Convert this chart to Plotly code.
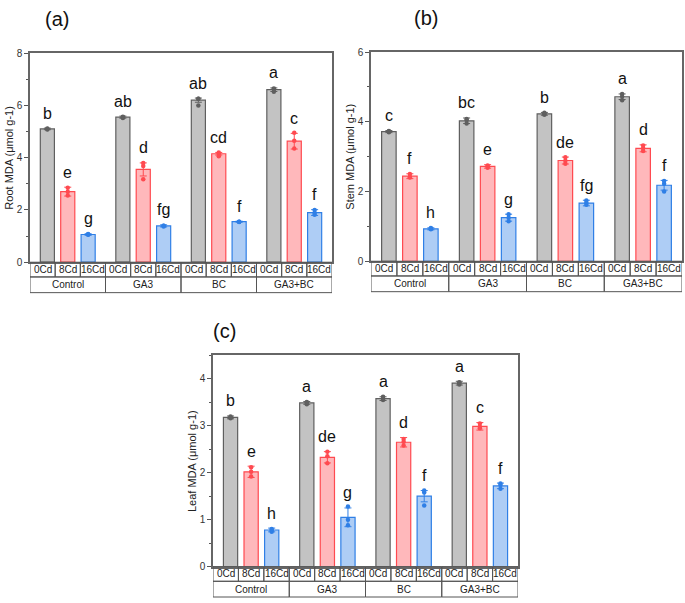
import plotly.graph_objects as go

W, H = 685, 603

treatments = ["Control", "GA3", "BC", "GA3+BC"]
cd_levels = ["0Cd", "8Cd", "16Cd"]

root_mean = [5.10, 2.70, 1.06, 5.55, 3.55, 1.39, 6.20, 4.15, 1.55, 6.60, 4.63, 1.90]
root_err = [0.03, 0.17, 0.03, 0.04, 0.25, 0.04, 0.08, 0.05, 0.02, 0.07, 0.30, 0.11]
root_reps = [[5.08, 5.10, 5.12], [2.85, 2.70, 2.55], [1.05, 1.06, 1.08],
             [5.52, 5.55, 5.57], [3.80, 3.68, 3.17], [1.37, 1.40, 1.40],
             [6.25, 6.25, 6.00], [4.20, 4.15, 4.05], [1.55, 1.55, 1.54],
             [6.65, 6.62, 6.52], [4.95, 4.65, 4.35], [2.00, 1.88, 1.82]]
root_letters = ["b", "e", "g", "ab", "d", "fg", "ab", "cd", "f", "a", "c", "f"]

stem_mean = [3.72, 2.44, 0.93, 4.03, 2.72, 1.25, 4.23, 2.89, 1.67, 4.72, 3.24, 2.18]
stem_err = [0.03, 0.07, 0.03, 0.08, 0.05, 0.10, 0.04, 0.10, 0.08, 0.08, 0.10, 0.14]
stem_reps = [[3.70, 3.72, 3.74], [2.40, 2.42, 2.50], [0.92, 0.93, 0.95],
             [3.95, 4.05, 4.08], [2.68, 2.72, 2.75], [1.15, 1.25, 1.35],
             [4.20, 4.23, 4.26], [2.80, 2.88, 2.98], [1.62, 1.68, 1.74],
             [4.62, 4.73, 4.80], [3.16, 3.24, 3.32], [2.00, 2.22, 2.30]]
stem_letters = ["c", "f", "h", "bc", "e", "g", "b", "de", "fg", "a", "d", "f"]

leaf_mean = [3.18, 2.02, 0.78, 3.49, 2.33, 1.05, 3.58, 2.65, 1.50, 3.91, 2.99, 1.72]
leaf_err = [0.03, 0.12, 0.04, 0.03, 0.12, 0.20, 0.04, 0.10, 0.12, 0.04, 0.08, 0.06]
leaf_reps = [[3.16, 3.18, 3.20], [1.92, 2.02, 2.12], [0.74, 0.78, 0.80],
             [3.46, 3.49, 3.51], [2.20, 2.35, 2.45], [0.88, 1.00, 1.28],
             [3.55, 3.58, 3.62], [2.58, 2.66, 2.72], [1.30, 1.58, 1.62],
             [3.88, 3.92, 3.93], [2.95, 2.98, 3.05], [1.66, 1.74, 1.77]]
leaf_letters = ["b", "e", "h", "a", "de", "g", "a", "d", "f", "a", "c", "f"]

fills = ["#c3c3c3", "#ffb8bb", "#aecdf5"]
edges = ["#5f5f5f", "#ff4a50", "#2f7fe6"]

panels = [
    dict(mean=root_mean, err=root_err, reps=root_reps, letters=root_letters,
         title="Root MDA (μmol g-1)", tag="(a)", box=(30, 49, 332, 262),
         ymax=8, dtick=2, minor=1, tagpos=(57, 14)),
    dict(mean=stem_mean, err=stem_err, reps=stem_reps, letters=stem_letters,
         title="Stem MDA (μmol g-1)", tag="(b)", box=(371, 48, 682, 261),
         ymax=6, dtick=2, minor=1, tagpos=(426, 13)),
    dict(mean=leaf_mean, err=leaf_err, reps=leaf_reps, letters=leaf_letters,
         title="Leaf MDA (μmol g-1)", tag="(c)", box=(213, 357, 518, 572),
         ymax=4.5, dtick=1, minor=0.5, tagpos=(224, 332)),
]

FONT = "Liberation Sans, Arial"

def px(x):
    return x / W

def py(y):
    return 1 - y / H

fig = go.Figure()
shapes = []
annotations = []
n = len(treatments) * len(cd_levels)

for p_i, p in enumerate(panels):
    sfx = "" if p_i == 0 else str(p_i + 1)
    xa, ya = "x" + sfx, "y" + sfx
    for k in range(3):
        idx = [g * 3 + k for g in range(len(treatments))]
        xs = [g * 3 + 1 + (k - 1) * 0.81 for g in range(len(treatments))]
        fig.add_trace(go.Bar(
            x=xs, y=[p["mean"][i] for i in idx], width=0.56,
            marker=dict(color=fills[k], line=dict(color=edges[k], width=1.2)),
            error_y=dict(type="data", array=[p["err"][i] for i in idx],
                         color=edges[k], thickness=1, width=3.5),
            xaxis=xa, yaxis=ya, showlegend=False))
        px_pts, py_pts = [], []
        for g, i in enumerate(idx):
            for v in p["reps"][i]:
                px_pts.append(xs[g])
                py_pts.append(v)
        fig.add_trace(go.Scatter(
            x=px_pts, y=py_pts, mode="markers",
            marker=dict(color=edges[k], size=4.5, symbol="circle"),
            xaxis=xa, yaxis=ya, showlegend=False, hoverinfo="skip"))
        for g, i in enumerate(idx):
            annotations.append(dict(
                x=xs[g], y=p["mean"][i] + p["err"][i], xref=xa, yref=ya,
                text=p["letters"][i], showarrow=False, xanchor="center",
                yanchor="middle", yshift=15,
                font=dict(family=FONT, size=16, color="#111")))

    x0, y0, x1, y1 = p["box"]
    layout_x = "xaxis" + sfx
    layout_y = "yaxis" + sfx
    fig.update_layout(**{
        layout_x: dict(domain=[px(x0), px(x1)], range=[-0.5, n - 0.5], anchor=ya,
                       showticklabels=False, ticks="", showgrid=False, zeroline=False,
                       showline=True, linecolor="#666", linewidth=1.5, mirror=True,
                       fixedrange=True),
        layout_y: dict(domain=[py(y1), py(y0)], range=[0, p["ymax"]], anchor=xa,
                       dtick=p["dtick"], ticks="outside", ticklen=4, tickwidth=1,
                       tickcolor="#555", showgrid=False, zeroline=False,
                       showline=True, linecolor="#666", linewidth=1.5, mirror=True,
                       tickfont=dict(family=FONT, size=10, color="#333"),
                       minor=dict(dtick=p["minor"], ticks="outside", ticklen=2.5,
                                  tickcolor="#555"),
                       fixedrange=True),
    })

    # category table below the plot
    r0, r1, r2 = y1, y1 + 15, y1 + 31
    for i in range(n):
        shapes.append(dict(type="rect", xref=xa, yref="paper", x0=i - 0.5, x1=i + 0.5,
                           y0=py(r1), y1=py(r0), line=dict(color="#555", width=1)))
        annotations.append(dict(x=i, y=py((r0 + r1) / 2), xref=xa, yref="paper",
                                text=cd_levels[i % 3], showarrow=False,
                                xanchor="center", yanchor="middle",
                                font=dict(family=FONT, size=10, color="#222")))
    for g, t in enumerate(treatments):
        shapes.append(dict(type="rect", xref=xa, yref="paper", x0=g * 3 - 0.5,
                           x1=g * 3 + 2.5, y0=py(r2), y1=py(r1),
                           line=dict(color="#555", width=1)))
        annotations.append(dict(x=g * 3 + 1, y=py((r1 + r2) / 2), xref=xa, yref="paper",
                                text=t, showarrow=False, xanchor="center", yanchor="middle",
                                font=dict(family=FONT, size=10, color="#222")))

    # y-axis title
    annotations.append(dict(x=px(x0 - 21), y=py((y0 + y1) / 2), xref="paper", yref="paper",
                            text=p["title"], textangle=-90, showarrow=False,
                            xanchor="center", yanchor="middle",
                            font=dict(family=FONT, size=11, color="#222")))
    # panel tag
    annotations.append(dict(x=px(p["tagpos"][0]), y=py(p["tagpos"][1]), xref="paper",
                            yref="paper", text=p["tag"], showarrow=False,
                            xanchor="center", yanchor="middle",
                            font=dict(family=FONT, size=20, color="#111")))

fig.update_layout(width=W, height=H, margin=dict(l=0, r=0, t=0, b=0),
                  paper_bgcolor="white", plot_bgcolor="white",
                  barmode="overlay", shapes=shapes, annotations=annotations,
                  showlegend=False)

fig.write_html("out.html", config={"displayModeBar": False},
               post_script="document.body.style.margin='0px';document.body.style.padding='0px';")
